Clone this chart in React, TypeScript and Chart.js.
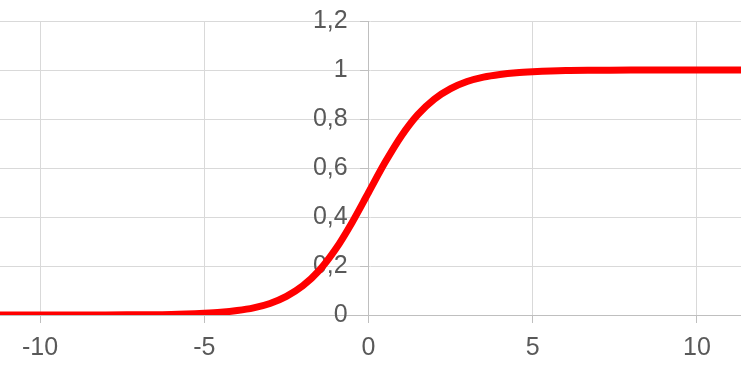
import React, { useEffect, useRef } from "react";
import { Chart, registerables } from "chart.js";

Chart.register(...registerables);

const xValues = [-12, -10, -8, -7, -6, -5, -4.5, -4, -3.5, -3, -2.5, -2, -1.5, -1, -0.5, 0, 0.5, 1, 1.5, 2, 2.5, 3, 3.5, 4, 4.5, 5, 6, 7, 8, 10, 12];
// y values
const yValues = [0, 0, 0, 0.001, 0.002, 0.007, 0.011, 0.018, 0.029, 0.047, 0.076, 0.119, 0.182, 0.269, 0.378, 0.5, 0.622, 0.731, 0.818, 0.881, 0.924, 0.953, 0.971, 0.982, 0.989, 0.993, 0.998, 0.999, 1, 1, 1];

const xMin = -11.22;
const xMax = 11.34;
const yMin = 0;
const yMax = 1.2;
const yStep = 0.2;
const xStep = 5;

const FONT = "'Liberation Sans', Arial, sans-serif";
const TEXT = "#595959";
const GRID = "#d9d9d9";
const AXIS = "#bfbfbf";

export default function App() {
  const ref = useRef<HTMLCanvasElement | null>(null);

  useEffect(() => {
    if (!ref.current) return;
    const points = xValues.map((x, i) => ({ x, y: yValues[i] }));
    const chart = new Chart(ref.current, {
      type: "line",
      data: {
        datasets: [
          {
            data: points,
            borderColor: "#ff0000",
            borderWidth: 7,
            pointRadius: 0,
            cubicInterpolationMode: "monotone",
            fill: false,
          },
        ],
      },
      options: {
        animation: false,
        responsive: false,
        maintainAspectRatio: false,
        layout: { padding: { top: 21, bottom: 1, left: 0, right: 0 } },
        plugins: { legend: { display: false }, tooltip: { enabled: false } },
        scales: {
          x: {
            type: "linear",
            position: "bottom",
            min: xMin,
            max: xMax,
            offset: false,
            afterFit: (s: any) => {
              s.height = 54;
            },
            grid: { color: GRID, lineWidth: 1, tickLength: 8, tickColor: AXIS },
            border: { color: AXIS, width: 1 },
            ticks: {
              stepSize: xStep,
              padding: 10,
              color: TEXT,
              font: { family: FONT, size: 25 },
              maxRotation: 0,
              autoSkip: false,
              includeBounds: false,
              callback: (v: any) => String(v),
            },
          },
          y: {
            type: "linear",
            position: { x: 0 } as any,
            min: yMin,
            max: yMax,
            grid: { color: GRID, lineWidth: 1, tickLength: 8, tickColor: AXIS },
            border: { color: AXIS, width: 1 },
            ticks: {
              stepSize: yStep,
              padding: 6,
              color: TEXT,
              font: { family: FONT, size: 25 },
              callback: (v: any) => Number(Number(v).toFixed(1)).toString().replace(".", ",") + "   ",
            },
          },
        },
      },
    });
    return () => chart.destroy();
  }, []);

  return (
    <div style={{ position: "absolute", left: 0, top: 0, width: 741, height: 370, background: "#fff" }}>
      <canvas ref={ref} width={741} height={370} style={{ display: "block" }} />
    </div>
  );
}
